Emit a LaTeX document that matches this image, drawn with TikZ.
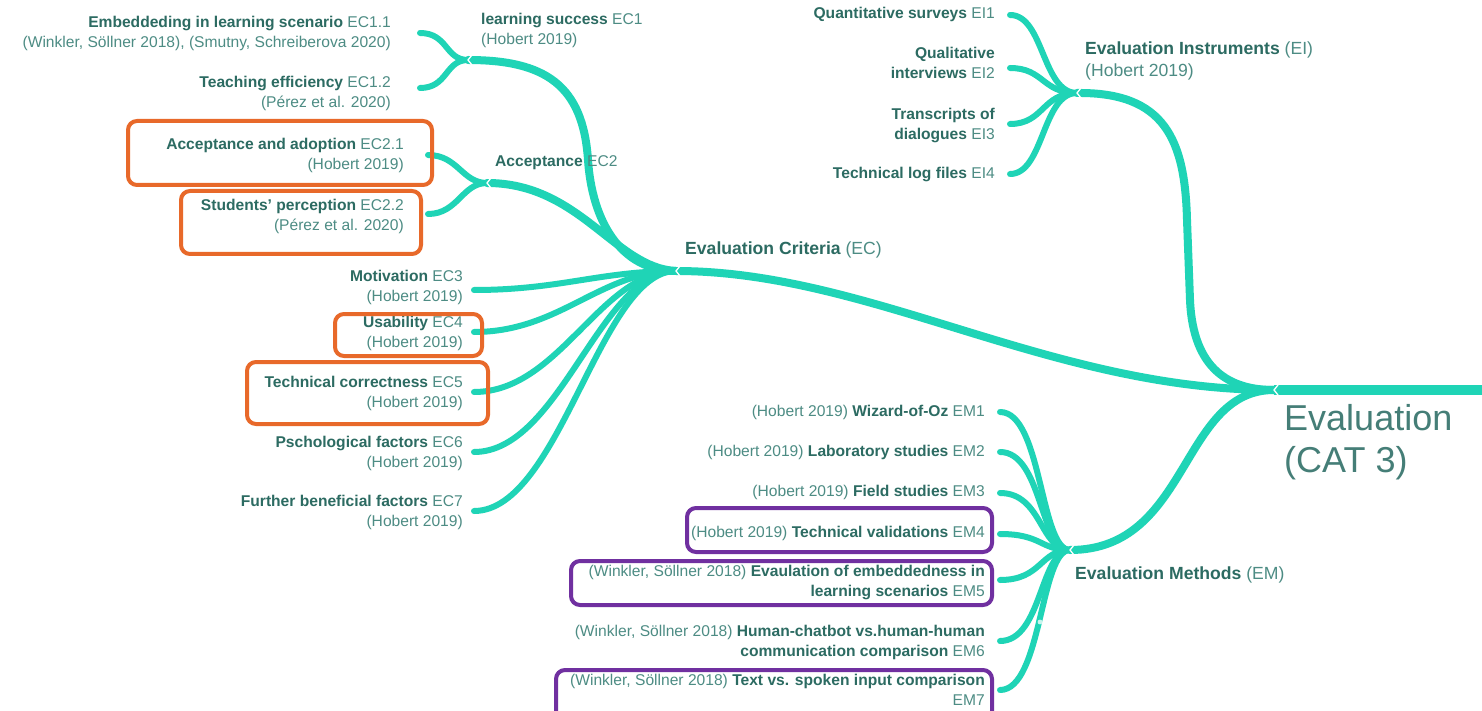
\documentclass[tikz,border=0pt]{standalone}
\usepackage{fontspec}
\setmainfont{Liberation Sans}
\definecolor{br}{HTML}{1FD4B6}
\definecolor{tdark}{HTML}{2C6B62}
\definecolor{tlight}{HTML}{4D8C84}
\definecolor{ora}{HTML}{E8692A}
\definecolor{pur}{HTML}{7030A0}
\newcommand\bt[1]{{\bfseries\color{tdark}#1}}
\newcommand\rt[1]{{\color{tlight}#1}}
\begin{document}
\begin{tikzpicture}[x=1pt,y=-1pt,
  leaf/.style={draw=br,line width=6pt,line cap=round},
  mid/.style={draw=br,line width=8pt,line cap=round},
  trunk/.style={draw=br,line width=9.5pt,line cap=butt},
  notch/.style={draw=white,line width=1.3pt},
  ltxt/.style={font=\fontsize{15.6}{20}\selectfont,align=right,anchor=east,inner sep=0pt},
  rtxt/.style={font=\fontsize{15.6}{20}\selectfont,align=left,anchor=west,inner sep=0pt},
  mtxt/.style={font=\fontsize{17.6}{22}\selectfont,align=left,anchor=west,inner sep=0pt},
  obox/.style={draw=ora,line width=4pt,rounded corners=9pt},
  pbox/.style={draw=pur,line width=4pt,rounded corners=9pt}]
\useasboundingbox (0,0) rectangle (1482,711);
\clip (0,0) rectangle (1482,711);
\fill[white] (0,0) rectangle (1482,711);

% junctions and ends
\coordinate (R) at (1274,390);
\coordinate (Rend) at (1482,390);
\coordinate (EIJ) at (1077,93);
\coordinate (EMJ) at (1070,550);
\coordinate (ECJ) at (676,271);
\coordinate (EC1J) at (468,60);
\coordinate (EC2J) at (487,183);
\coordinate (ei1) at (1010,15);
\coordinate (ei2) at (1010,68);
\coordinate (ei3) at (1010,124);
\coordinate (ei4) at (1010,174);
\coordinate (em1) at (1000,412);
\coordinate (em2) at (1000,452);
\coordinate (em3) at (1000,493);
\coordinate (em4) at (1000,534);
\coordinate (em5) at (1000,580);
\coordinate (em6) at (1000,641);
\coordinate (em7) at (1000,690);
\coordinate (ec11) at (420,33);
\coordinate (ec12) at (420,88);
\coordinate (ec21) at (428,155);
\coordinate (ec22) at (428,214);
\coordinate (ec3) at (474,290);
\coordinate (ec4) at (474,332);
\coordinate (ec5) at (474,392);
\coordinate (ec6) at (474,452);
\coordinate (ec7) at (474,511);

% root line
\draw[trunk] (R) -- (Rend);
% main branches
\draw[mid] (R) .. controls (1230,390) and (1193,370) .. (1190,300) -- (1187,220) .. controls (1185,140) and (1165,92) .. (EIJ);
\draw[mid] (R) .. controls (1180,390) and (1190,550) .. (EMJ);
\draw[mid] (R) .. controls (1050,390) and (870,271) .. (ECJ);
% EC sub branches
\draw[mid] (ECJ) .. controls (620,271) and (592,220) .. (588,160) .. controls (583,85) and (545,60) .. (EC1J);
\draw[mid] (ECJ) .. controls (615,268) and (580,183) .. (EC2J);
% EI leaves
\foreach \p in {ei1,ei2,ei3,ei4}
  \draw[leaf] (EIJ) .. controls (1042,93) and (1044,0|-\p) .. (\p);
% EM leaves
\foreach \p in {em1,em2,em3,em4,em5,em6,em7}
  \draw[leaf] (EMJ) .. controls (1040,550) and (1042,0|-\p) .. (\p);
% EC leaves
\foreach \p in {ec3,ec4,ec5,ec6,ec7}
  \draw[leaf] (ECJ) .. controls (600,271) and (560,0|-\p) .. (\p);
\foreach \p in {ec11,ec12}
  \draw[leaf] (EC1J) .. controls (445,60) and (448,0|-\p) .. (\p);
\foreach \p in {ec21,ec22}
  \draw[leaf] (EC2J) .. controls (462,183) and (458,0|-\p) .. (\p);
% notches
\foreach \p in {R,EIJ,EMJ,ECJ,EC1J,EC2J}
  \draw[notch] (\p) ++(4,-5) -- ++(-4,5) -- ++(4,5);
\fill[white!75!br] (1040,622) circle (2.4);

% root label
\node[anchor=north west,inner sep=0pt,align=left,font=\fontsize{36}{42}\selectfont,text=tlight!90!black] (root) at (1284,404) {Evaluation\\(CAT 3)};
% main labels
\node[mtxt] (EC) at (685,250) {\bt{Evaluation Criteria} \rt{(EC)}};
\node[mtxt] (EI) at (1085,61) {\bt{Evaluation Instruments} \rt{(EI)}\\\rt{(Hobert 2019)}};
\node[mtxt] (EM) at (1075,575) {\bt{Evaluation Methods} \rt{(EM)}};
\node[rtxt] (EC1) at (481,30) {\bt{learning success} \rt{EC1}\\\rt{(Hobert 2019)}};
\node[rtxt] (EC2) at (495,163) {\bt{Acceptance} \rt{EC2}};

% EI leaves
\node[ltxt] (tei1) at (995,14) {\bt{Quantitative surveys} \rt{EI1}};
\node[ltxt] (tei2) at (995,63) {\bt{Qualitative}\\\bt{interviews} \rt{EI2}};
\node[ltxt] (tei3) at (995,126) {\bt{Transcripts of}\\\bt{dialogues} \rt{EI3}};
\node[ltxt] (tei4) at (995,175) {\bt{Technical log files} \rt{EI4}};

% EC leaves
\node[ltxt] (tec11) at (391,33) {\bt{Embeddeding in learning scenario} \rt{EC1.1}\\\rt{(Winkler, Söllner 2018), (Smutny, Schreiberova 2020)}};
\node[ltxt] (tec12) at (391,93) {\bt{Teaching efficiency} \rt{EC1.2}\\\rt{(Pérez et al. 2020)}};
\node[ltxt] (tec21) at (404,155) {\bt{Acceptance and adoption} \rt{EC2.1}\\\rt{(Hobert 2019)}};
\node[ltxt] (tec22) at (404,216) {\bt{Students' perception} \rt{EC2.2}\\\rt{(Pérez et al. 2020)}};
\node[ltxt] (tec3) at (463,287) {\bt{Motivation} \rt{EC3}\\\rt{(Hobert 2019)}};
\node[ltxt] (tec4) at (463,333) {\bt{Usability} \rt{EC4}\\\rt{(Hobert 2019)}};
\node[ltxt] (tec5) at (463,393) {\bt{Technical correctness} \rt{EC5}\\\rt{(Hobert 2019)}};
\node[ltxt] (tec6) at (463,453) {\bt{Pschological factors} \rt{EC6}\\\rt{(Hobert 2019)}};
\node[ltxt] (tec7) at (463,512) {\bt{Further beneficial factors} \rt{EC7}\\\rt{(Hobert 2019)}};

% EM leaves
\node[ltxt] (tem1) at (985,412) {\rt{(Hobert 2019)} \bt{Wizard-of-Oz} \rt{EM1}};
\node[ltxt] (tem2) at (985,452) {\rt{(Hobert 2019)} \bt{Laboratory studies} \rt{EM2}};
\node[ltxt] (tem3) at (985,492) {\rt{(Hobert 2019)} \bt{Field studies} \rt{EM3}};
\node[ltxt] (tem4) at (985,533) {\rt{(Hobert 2019)} \bt{Technical validations} \rt{EM4}};
\node[ltxt] (tem5) at (985,582) {\rt{(Winkler, Söllner 2018)} \bt{Evaulation of embeddedness in}\\\bt{learning scenarios} \rt{EM5}};
\node[ltxt] (tem6) at (985,642) {\rt{(Winkler, Söllner 2018)} \bt{Human-chatbot vs.human-human}\\\bt{communication comparison} \rt{EM6}};
\node[ltxt] (tem7) at (985,690) {\rt{(Winkler, Söllner 2018)} \bt{Text vs. spoken input comparison}\\\rt{EM7}};

% highlight boxes
\draw[obox] (128,121) rectangle (432,185);
\draw[obox] (181,191) rectangle (421,254);
\draw[obox] (335,314) rectangle (482,356);
\draw[obox] (247,362) rectangle (488,424);
\draw[pbox] (687,508) rectangle (992,552);
\draw[pbox] (571,561) rectangle (992,605);
\draw[pbox] (556,670) rectangle (992,720);
\end{tikzpicture}
\end{document}
